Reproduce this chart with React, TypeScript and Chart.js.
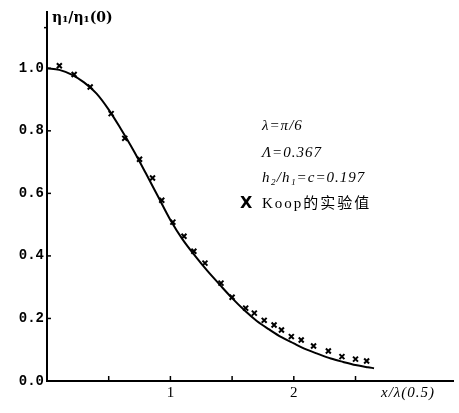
import { useEffect, useRef } from 'react';
import { Chart, registerables } from 'chart.js';

Chart.register(...registerables);

// Theoretical curve  η1/η1(0) vs x/λ(0.5)
const curveX = [0, 0.1, 0.2, 0.3, 0.4, 0.5, 0.6, 0.7, 0.8, 0.9, 1.0, 1.1, 1.2, 1.3, 1.4, 1.5, 1.6, 1.7, 1.8, 1.9, 2.0, 2.1, 2.2, 2.3, 2.4, 2.5, 2.6, 2.65];
const curveY = [1.0, 0.995, 0.98, 0.955, 0.92, 0.868, 0.805, 0.738, 0.665, 0.59, 0.515, 0.452, 0.4, 0.352, 0.308, 0.265, 0.226, 0.192, 0.165, 0.14, 0.12, 0.101, 0.086, 0.072, 0.061, 0.051, 0.044, 0.041];

// Koop experimental values
const koopX = [0.1, 0.22, 0.35, 0.52, 0.63, 0.75, 0.855, 0.93, 1.02, 1.11, 1.19, 1.28, 1.41, 1.5, 1.61, 1.68, 1.76, 1.84, 1.9, 1.98, 2.06, 2.16, 2.28, 2.39, 2.5, 2.59];
const koopY = [1.008, 0.98, 0.94, 0.855, 0.776, 0.709, 0.649, 0.578, 0.508, 0.463, 0.415, 0.377, 0.313, 0.268, 0.233, 0.217, 0.194, 0.179, 0.163, 0.142, 0.131, 0.112, 0.096, 0.078, 0.07, 0.064];

const xTickValues = [0.5, 1, 1.5, 2, 2.5];
const xTickLabels = ['', '1', '', '2', ''];
const yTickValues = [0, 0.2, 0.4, 0.6, 0.8, 1.0];
const yTickLabels = ['0.0', '0.2', '0.4', '0.6', '0.8', '1.0'];

const annotationLines = ['λ=π/6', 'Λ=0.367', 'h₂/h₁=c=0.197'];
const legendText = 'Koop的实验值';
const yTitle = 'η₁/η₁(0)';
const xTitle = 'x/λ(0.5)';

const decorPlugin = {
  id: 'decor',
  afterDraw(chart: any) {
    const { ctx, chartArea } = chart;
    const xs = chart.scales.x;
    const ys = chart.scales.y;
    ctx.save();
    ctx.strokeStyle = '#000';
    ctx.fillStyle = '#000';
    ctx.lineWidth = 1.5;
    // inward tick marks
    xTickValues.forEach((v) => {
      const px = xs.getPixelForValue(v);
      ctx.beginPath();
      ctx.moveTo(px, chartArea.bottom);
      ctx.lineTo(px, chartArea.bottom - 5);
      ctx.stroke();
    });
    yTickValues.forEach((v) => {
      const py = ys.getPixelForValue(v);
      ctx.beginPath();
      ctx.moveTo(chartArea.left, py);
      ctx.lineTo(chartArea.left + 4, py);
      ctx.stroke();
    });
    // small nub near the top of the y axis
    const ny = ys.getPixelForValue(1.13);
    ctx.beginPath();
    ctx.moveTo(chartArea.left - 3, ny);
    ctx.lineTo(chartArea.left + 1, ny);
    ctx.stroke();
    // y title
    ctx.textBaseline = 'middle';
    ctx.textAlign = 'left';
    ctx.font = 'bold 14px "DejaVu Serif"';
    ctx.fillText(yTitle, chartArea.left + 5, 18);
    // x title
    ctx.font = 'italic 15px "Liberation Serif"';
    (ctx as any).letterSpacing = '1px';
    ctx.fillText(xTitle, 381, 393);
    // annotations
    ctx.font = 'italic 15px "Liberation Serif"';
    const ys0 = [126, 153, 178];
    annotationLines.forEach((t, i) => ctx.fillText(t, 262, ys0[i]));
    (ctx as any).letterSpacing = '2px';
    ctx.font = '15px "Liberation Serif", "Noto Sans CJK SC"';
    ctx.fillText(legendText, 262, 204);
    (ctx as any).letterSpacing = '0px';
    ctx.font = 'bold 16px "DejaVu Sans"';
    ctx.fillText('X', 240, 204);
    ctx.restore();
  },
};

export default function App() {
  const ref = useRef<HTMLCanvasElement | null>(null);
  useEffect(() => {
    if (!ref.current) return;
    const chart = new Chart(ref.current, {
      type: 'scatter',
      data: {
        datasets: [
          {
            type: 'line',
            data: curveX.map((x, i) => ({ x, y: curveY[i] })),
            borderColor: '#000',
            borderWidth: 2,
            pointRadius: 0,
            cubicInterpolationMode: 'monotone',
            fill: false,
          } as any,
          {
            data: koopX.map((x, i) => ({ x, y: koopY[i] })),
            pointStyle: 'crossRot',
            pointRadius: 3.5,
            borderWidth: 2,
            borderColor: '#000',
            backgroundColor: '#000',
            showLine: false,
          },
        ],
      },
      options: {
        animation: false,
        responsive: false,
        layout: { padding: { top: 12, right: 4, left: 0, bottom: 0 } },
        plugins: { legend: { display: false }, tooltip: { enabled: false } },
        scales: {
          x: {
            type: 'linear',
            min: 0,
            max: 3.29,
            grid: { display: false, drawTicks: false },
            border: { display: true, color: '#000', width: 2 },
            afterBuildTicks: (s: any) => {
              s.ticks = xTickValues.map((v) => ({ value: v }));
            },
            afterFit: (s: any) => {
              s.height = 32;
            },
            ticks: {
              padding: 3,
              color: '#000',
              maxRotation: 0,
              autoSkip: false,
              font: { family: '"Liberation Serif"', size: 15 },
              callback: (_v: any, i: number) => xTickLabels[i],
            },
          },
          y: {
            type: 'linear',
            min: 0,
            max: 1.18,
            grid: { display: false, drawTicks: false },
            border: { display: true, color: '#000', width: 2 },
            afterBuildTicks: (s: any) => {
              s.ticks = yTickValues.map((v) => ({ value: v }));
            },
            afterFit: (s: any) => {
              s.width = 47;
            },
            ticks: {
              padding: 3,
              color: '#000',
              autoSkip: false,
              font: { family: '"Liberation Mono"', size: 14, weight: 'bold' },
              callback: (_v: any, i: number) => yTickLabels[i],
            },
          },
        },
      },
      plugins: [decorPlugin],
    } as any);
    return () => chart.destroy();
  }, []);
  return (
    <div style={{ position: 'fixed', left: 0, top: 0, width: 459, height: 413, background: '#fff' }}>
      <canvas ref={ref} width={459} height={413} style={{ width: 459, height: 413 }} />
    </div>
  );
}
